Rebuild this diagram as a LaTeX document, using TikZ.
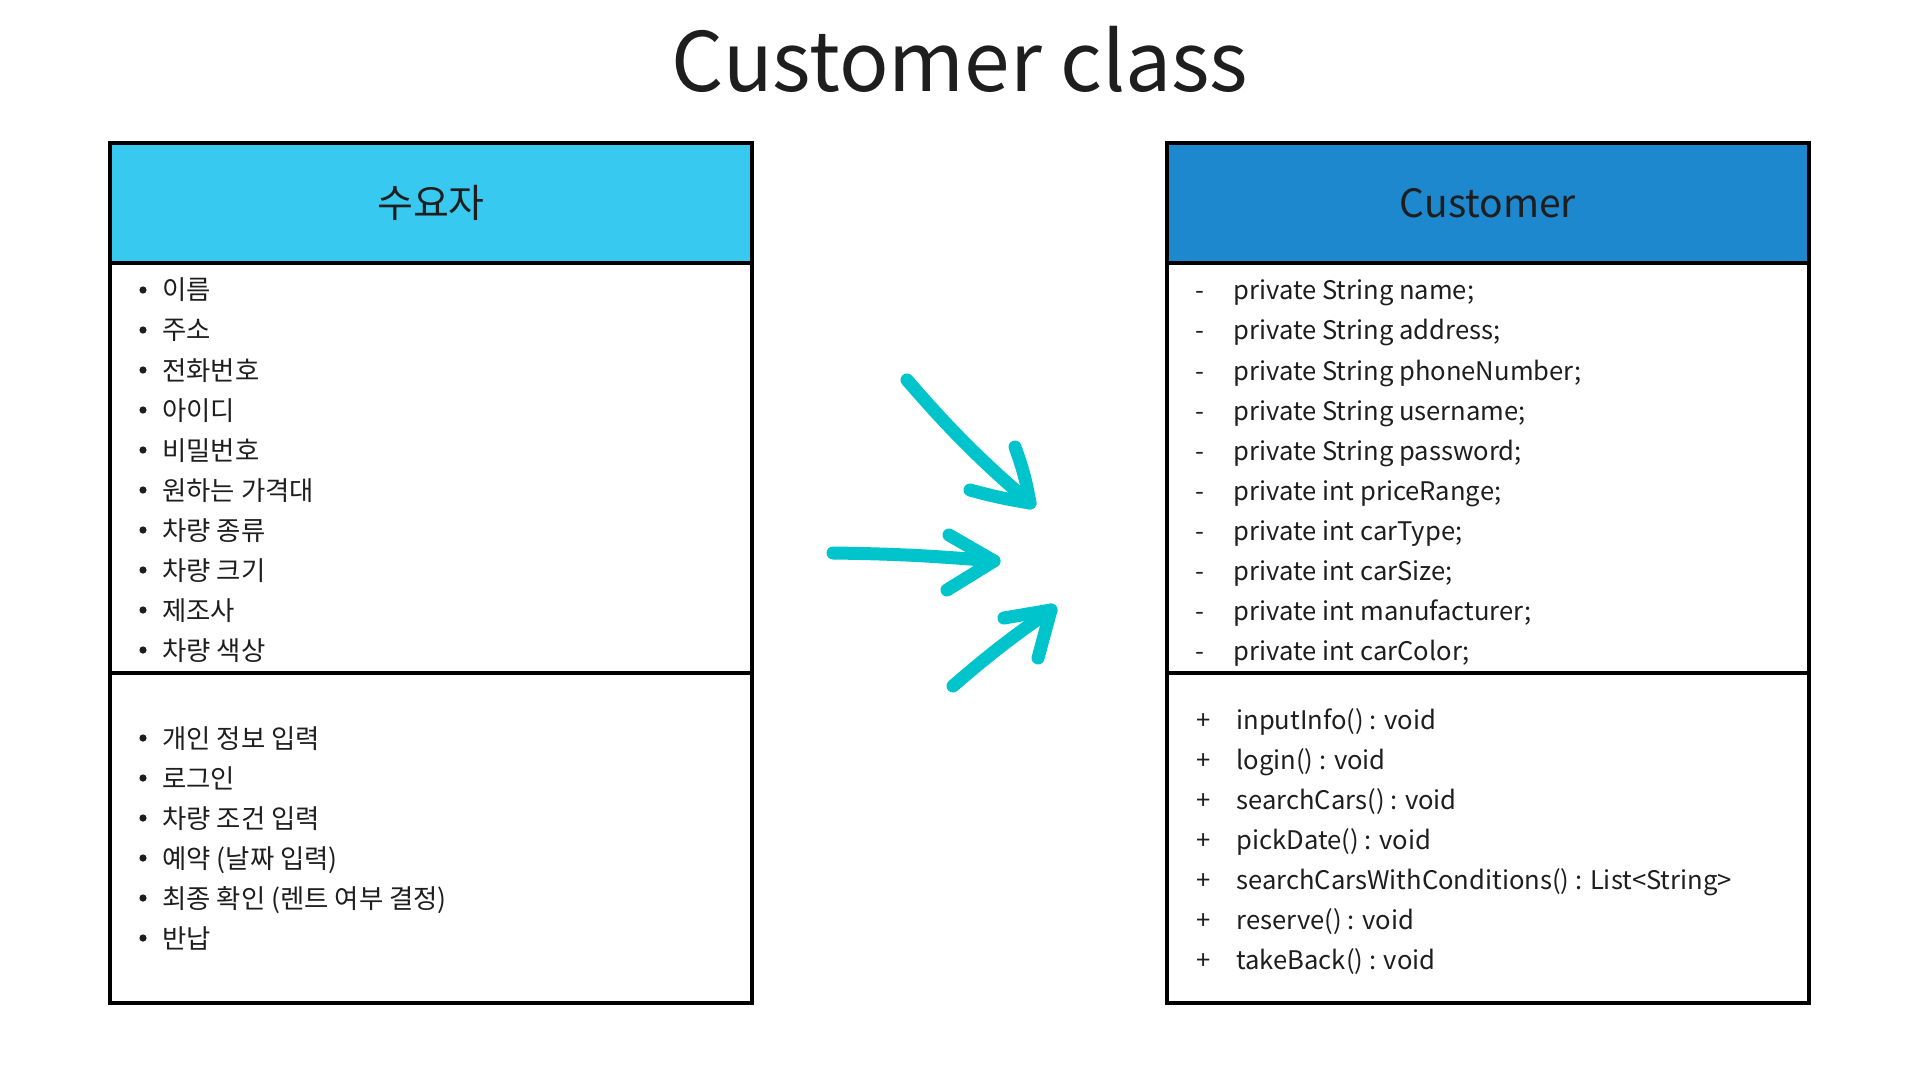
\documentclass[tikz,border=0pt]{standalone}
\usepackage{fontspec}
\setmainfont{Noto Sans CJK KR}
\usepackage{tikz}
\usetikzlibrary{positioning}
\definecolor{ink}{HTML}{1E1E1E}
\definecolor{skyhead}{HTML}{38C9F0}
\definecolor{bluehead}{HTML}{1E88CF}
\definecolor{arrowc}{HTML}{00C4CC}
\tikzset{
  box/.style={draw=black, line width=2pt, minimum width=321pt, inner sep=0pt},
  head/.style={box, minimum height=60pt, text=ink, font=\fontsize{19.5}{22}\selectfont},
  title/.style={anchor=base, inner sep=0pt, text=ink, font=\fontsize{41}{46}\selectfont},
  item/.style={anchor=base west, inner sep=0pt, text=ink, font=\fontsize{12.8}{14}\selectfont},
  kitem/.style={item, font=\fontsize{13.2}{15}\selectfont},
  sign/.style={item, anchor=base},
  dot/.style={circle, fill=ink, inner sep=0pt, minimum size=3.6pt},
  stroke/.style={draw=arrowc, line width=6.5pt, line cap=round, line join=round},
}

\begin{document}
\begin{tikzpicture}[x=0.5pt, y=-0.5pt]
  \useasboundingbox[fill=white] (0,0) rectangle (1920,1080);

  \node[title] (ttl) at (960,92) {Customer class};

  % left box
  \node[head, fill=skyhead] (lhead) at (431,203) {수요자};
  \node[box, minimum height=205pt] (lattr) at (431,468) {};
  \node[box, minimum height=165pt] (lmeth) at (431,838) {};

  \foreach \t [count=\i] in {이름, 주소, 전화번호, 아이디, 비밀번호, 원하는 가격대,
      차량 종류, 차량 크기, 제조사, 차량 색상} {
    \node[dot] (lb\i) at (143,{250+40*\i}) {};
    \node[kitem] (la\i) at (162,{260+40*\i}) {\t};
  }
  \foreach \t [count=\i] in {개인 정보 입력, 로그인, 차량 조건 입력, 예약 (날짜 입력),
      최종 확인 (렌트 여부 결정), 반납} {
    \node[dot] (lc\i) at (143,{698+40*\i}) {};
    \node[kitem] (lm\i) at (162,{708+40*\i}) {\t};
  }

  % right box
  \node[head, fill=bluehead] (rhead) at (1488,203) {Customer};
  \node[box, minimum height=205pt] (rattr) at (1488,468) {};
  \node[box, minimum height=165pt] (rmeth) at (1488,838) {};

  \foreach \t [count=\i] in {private String name;, private String address;,
      private String phoneNumber;, private String username;, private String password;,
      private int priceRange;, private int carType;, private int carSize;,
      private int manufacturer;, private int carColor;} {
    \node[sign] (rs\i) at (1200,{260+40*\i}) {-};
    \node[item] (ra\i) at (1233,{260+40*\i}) {\t};
  }
  \foreach \t [count=\i] in {inputInfo() : void, login() : void, searchCars() : void,
      pickDate() : void, searchCarsWithConditions() : List<String>, reserve() : void,
      takeBack() : void} {
    \node[sign] (rp\i) at (1204,{689+40*\i}) {+};
    \node[item] (rm\i) at (1236,{689+40*\i}) {\t};
  }

  % arrows
  \coordinate (a1t) at (907,380);
  \coordinate (a1h) at (1030,503);
  \coordinate (a1u) at (1015,447);
  \coordinate (a1l) at (970,490);
  \coordinate (a2t) at (833,553);
  \coordinate (a2h) at (994,561);
  \coordinate (a2u) at (949,535);
  \coordinate (a2l) at (947,590);
  \coordinate (a3t) at (953,686);
  \coordinate (a3h) at (1051,610);
  \coordinate (a3u) at (1004,618);
  \coordinate (a3l) at (1038,658);

  \draw[stroke] (a1t) to[bend right=4] (a1h);
  \draw[stroke] (a1u) to[bend left=5] (a1h) to[bend left=3] (a1l);
  \draw[stroke] (a2t) to[bend left=2] (a2h);
  \draw[stroke] (a2u) -- (a2h) -- (a2l);
  \draw[stroke] (a3t) to[bend left=3] (a3h);
  \draw[stroke] (a3u) -- (a3h) -- (a3l);
\end{tikzpicture}
\end{document}
